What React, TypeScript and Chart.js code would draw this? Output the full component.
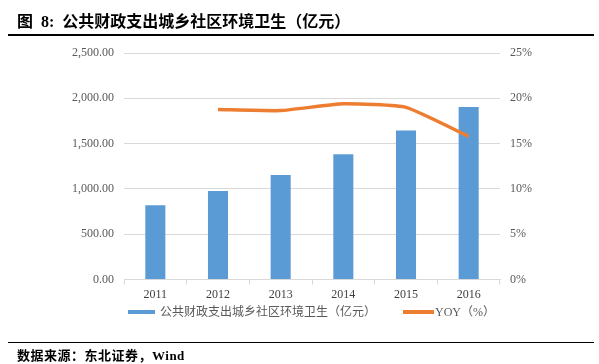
import React, { useEffect, useRef } from "react";
import { Chart, registerables } from "chart.js";

Chart.register(...registerables);

const categories = ["2011", "2012", "2013", "2014", "2015", "2016"];
const spending = [821, 978, 1153, 1383, 1646, 1905];
const yoy = [null, 18.76, 18.65, 19.4, 19.0, 15.8];
const barLabel = "公共财政支出城乡社区环境卫生（亿元）";
const lineLabel = "YOY（%）";
const barColor = "#5B9BD5";
const lineColor = "#ED7D31";

export default function App() {
  const ref = useRef<HTMLCanvasElement>(null);
  useEffect(() => {
    const ctx = ref.current!;
    const chart = new Chart(ctx, {
      data: {
        labels: categories,
        datasets: [
          {
            type: "line",
            label: lineLabel,
            data: yoy as any,
            yAxisID: "y1",
            borderColor: lineColor,
            backgroundColor: lineColor,
            borderWidth: 3.5,
            pointRadius: 0,
            tension: 0.15,
            order: 0,
          } as any,
          {
            type: "bar",
            label: barLabel,
            data: spending,
            yAxisID: "y",
            backgroundColor: barColor,
            categoryPercentage: 1,
            barPercentage: 0.32,
            order: 1,
          },
        ],
      },
      options: {
        animation: false,
        responsive: false,
        layout: { padding: { top: 53, bottom: 59, left: 0, right: 0 } },
        plugins: {
          legend: { display: false },
          tooltip: { enabled: false },
        },
        scales: {
          x: {
            grid: {
              display: true,
              drawOnChartArea: false,
              drawTicks: true,
              tickLength: 5,
              color: "#d9d9d9",
              offset: true,
            },
            border: { display: true, color: "#d9d9d9" },
            ticks: {
              padding: 3,
              color: "#404040",
              font: { family: "'Liberation Serif'", size: 12 },
            },
          },
          y: {
            position: "left",
            min: 0,
            max: 2500,
            afterFit: (s: any) => {
              s.width = 124;
            },
            ticks: {
              stepSize: 500,
              padding: 10,
              color: "#595959",
              font: { family: "'Liberation Serif'", size: 12 },
              callback: (v: any) =>
                Number(v).toLocaleString("en-US", { minimumFractionDigits: 2, maximumFractionDigits: 2 }),
            },
            grid: { color: "#d9d9d9", drawTicks: false },
            border: { display: false },
          },
          y1: {
            position: "right",
            min: 0,
            max: 25,
            afterFit: (s: any) => {
              s.width = 99;
            },
            ticks: {
              stepSize: 5,
              padding: 10,
              color: "#595959",
              font: { family: "'Liberation Serif'", size: 12 },
              callback: (v: any) => `${v}%`,
            },
            grid: { display: false, drawTicks: false },
            border: { display: false },
          },
        },
      },
    });
    return () => chart.destroy();
  }, []);

  const legendText: React.CSSProperties = {
    position: "absolute",
    top: 304,
    fontFamily: "'Liberation Serif', 'Noto Sans CJK SC'",
    fontSize: 12,
    lineHeight: "16px",
    color: "#595959",
    whiteSpace: "nowrap",
  };

  return (
    <div style={{ position: "fixed", left: 0, top: 0, width: 599, height: 364, background: "#fff" }}>
      <canvas ref={ref} width={599} height={364} style={{ position: "absolute", left: 0, top: 0 }} />
      <div
        style={{
          position: "absolute",
          left: 17,
          top: 8,
          fontFamily: "'Liberation Serif', 'Noto Sans CJK SC'",
          fontWeight: "bold",
          fontSize: 16,
          color: "#000",
          whiteSpace: "nowrap",
        }}
      >
        图&nbsp;&nbsp;8:&nbsp;&nbsp;公共财政支出城乡社区环境卫生（亿元）
      </div>
      <div style={{ position: "absolute", left: 8, top: 34, width: 586, height: 2, background: "#000" }} />
      <div style={{ position: "absolute", left: 128, top: 310, width: 27, height: 4, background: barColor }} />
      <div style={{ ...legendText, left: 160 }}>{barLabel}</div>
      <div style={{ position: "absolute", left: 403, top: 310, width: 31, height: 4, background: lineColor }} />
      <div style={{ ...legendText, left: 435 }}>{lineLabel}</div>
      <div style={{ position: "absolute", left: 8, top: 342, width: 586, height: 1, background: "#000" }} />
      <div
        style={{
          position: "absolute",
          left: 17,
          top: 345,
          fontFamily: "'Liberation Serif', 'Noto Sans CJK SC'",
          fontWeight: "bold",
          fontSize: 13,
          letterSpacing: 0.5,
          color: "#000",
          whiteSpace: "nowrap",
        }}
      >
        数据来源：东北证券，Wind
      </div>
    </div>
  );
}
